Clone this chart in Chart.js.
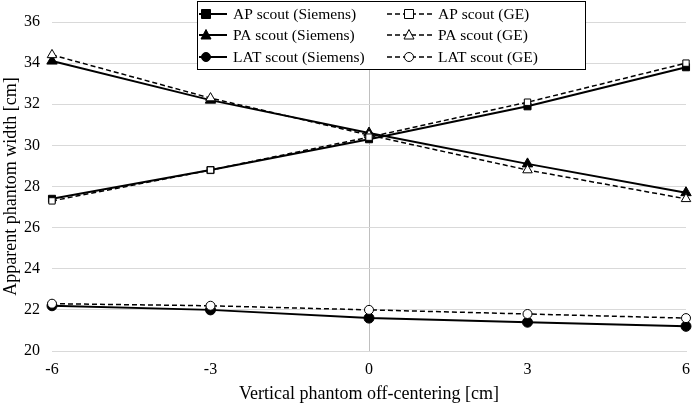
<!DOCTYPE html>
<html>
<head>
<meta charset="utf-8">
<script src="https://cdn.jsdelivr.net/npm/chart.js@4/dist/chart.umd.min.js"></script>
<style>
  html, body { margin: 0; padding: 0; background: #fff; }
  #wrap { width: 694px; height: 405px; position: relative; }
</style>
</head>
<body>
<div id="wrap"><canvas id="chart"></canvas></div>
<script>
// data
const offsets = [-6, -3, 0, 3, 6];
const apSiemens = [27.4, 28.8, 30.3, 31.9, 33.8];
const apGE = [27.3, 28.8, 30.4, 32.1, 34.0];
const paSiemens = [34.1, 32.2, 30.6, 29.1, 27.7];
const paGE = [34.4, 32.3, 30.5, 28.8, 27.4];
const latSiemens = [22.2, 22.0, 21.6, 21.4, 21.2];
const latGE = [22.3, 22.2, 22.0, 21.8, 21.6];
const seriesLabels = ['AP scout (Siemens)', 'AP scout (GE)', 'PA scout (Siemens)', 'PA scout (GE)', 'LAT scout (Siemens)', 'LAT scout (GE)'];
const xTicks = [-6, -3, 0, 3, 6];
const yTicks = [20, 22, 24, 26, 28, 30, 32, 34, 36];

const FONT = '"Liberation Serif", "Times New Roman", serif';

function pts(values) {
    return offsets.map((x, i) => ({ x: x, y: values[i] }));
}

function siemens(label, values, style) {
    return {
        label: label,
        data: pts(values),
        borderColor: '#000',
        borderWidth: 2,
        pointStyle: style,
        pointRadius: style === 'triangle' ? 6 : 5,
        pointBackgroundColor: '#000',
        pointBorderColor: '#000',
        pointBorderWidth: 1,
        clip: false,
        order: 2
    };
}

function ge(label, values, style) {
    return {
        label: label,
        data: pts(values),
        borderColor: '#000',
        borderWidth: 1.5,
        borderDash: [5, 3],
        pointStyle: style,
        pointRadius: style === 'triangle' ? 5.5 : 4.5,
        pointBackgroundColor: '#fff',
        pointBorderColor: '#000',
        pointBorderWidth: 1,
        clip: false,
        order: 1
    };
}

// draws the boxed two-column legend on top of the plot
const boxLegend = {
    id: 'boxLegend',
    afterDraw(chart) {
        const ctx = chart.ctx;
        const box = { x: 197, y: 1, w: 388, h: 68 };
        ctx.save();
        ctx.fillStyle = '#fff';
        ctx.fillRect(box.x, box.y, box.w, box.h);
        ctx.strokeStyle = '#000';
        ctx.lineWidth = 1;
        ctx.strokeRect(box.x + 0.5, box.y + 0.5, box.w, box.h);
        const rows = [14, 35, 57];
        const cols = [{ l: 199, r: 227, m: 206, t: 233 }, { l: 387, r: 433, m: 409, t: 438 }];
        chart.data.datasets.forEach((ds, i) => {
            const c = cols[i % 2];
            const y = rows[Math.floor(i / 2)];
            ctx.strokeStyle = '#000';
            ctx.lineWidth = ds.borderWidth;
            ctx.setLineDash(ds.borderDash || []);
            ctx.beginPath();
            ctx.moveTo(c.l, y);
            ctx.lineTo(c.r, y);
            ctx.stroke();
            ctx.setLineDash([]);
            ctx.fillStyle = ds.pointBackgroundColor;
            ctx.lineWidth = 1;
            const r = 4.5;
            ctx.beginPath();
            if (ds.pointStyle === 'rect') {
                ctx.rect(c.m - r, y - r, 2 * r, 2 * r);
            } else if (ds.pointStyle === 'triangle') {
                ctx.moveTo(c.m, y - r - 1);
                ctx.lineTo(c.m + r + 0.5, y + r - 0.5);
                ctx.lineTo(c.m - r - 0.5, y + r - 0.5);
                ctx.closePath();
            } else {
                ctx.arc(c.m, y, r, 0, Math.PI * 2);
            }
            ctx.fill();
            ctx.stroke();
            ctx.fillStyle = '#000';
            ctx.font = '15.5px ' + FONT;
            ctx.textBaseline = 'middle';
            ctx.textAlign = 'left';
            ctx.fillText(ds.label, c.t, y + 1);
        });
        ctx.restore();
    }
};

new Chart(document.getElementById('chart'), {
    type: 'line',
    data: {
        datasets: [
            siemens(seriesLabels[0], apSiemens, 'rect'),
            ge(seriesLabels[1], apGE, 'rect'),
            siemens(seriesLabels[2], paSiemens, 'triangle'),
            ge(seriesLabels[3], paGE, 'triangle'),
            siemens(seriesLabels[4], latSiemens, 'circle'),
            ge(seriesLabels[5], latGE, 'circle')
        ]
    },
    options: {
        responsive: true,
        maintainAspectRatio: false,
        animation: false,
        layout: { padding: { left: 0, right: 8, top: 22, bottom: 0 } },
        plugins: {
            legend: { display: false },
            tooltip: { enabled: false }
        },
        scales: {
            x: {
                type: 'linear',
                min: -6,
                max: 6,
                afterBuildTicks: (axis) => { axis.ticks = xTicks.map(v => ({ value: v })); },
                afterFit: (axis) => {
                    axis.height = 54;
                    axis.paddingLeft = 0;
                    axis.paddingRight = 0;
                },
                grid: {
                    color: (c) => (c.tick && c.tick.value === 0 ? '#bfbfbf' : 'rgba(0,0,0,0)'),
                    drawTicks: false
                },
                border: { display: true, color: '#d9d9d9' },
                ticks: { color: '#000', font: { family: FONT, size: 16 }, padding: 9, maxRotation: 0 },
                title: {
                    display: true,
                    text: 'Vertical phantom off-centering [cm]',
                    color: '#000',
                    font: { family: FONT, size: 18 },
                    padding: { top: 0, bottom: 0 }
                }
            },
            y: {
                min: 20,
                max: 36,
                afterBuildTicks: (axis) => { axis.ticks = yTicks.map(v => ({ value: v })); },
                afterFit: (axis) => { axis.width = 52; },
                grid: { color: '#d9d9d9', drawTicks: false },
                border: { display: false },
                ticks: { color: '#000', font: { family: FONT, size: 16 }, padding: 12 },
                title: {
                    display: true,
                    text: 'Apparent phantom width [cm]',
                    color: '#000',
                    font: { family: FONT, size: 18 },
                    padding: { top: 0, bottom: 0 }
                }
            }
        }
    },
    plugins: [boxLegend]
});
</script>
</body>
</html>
